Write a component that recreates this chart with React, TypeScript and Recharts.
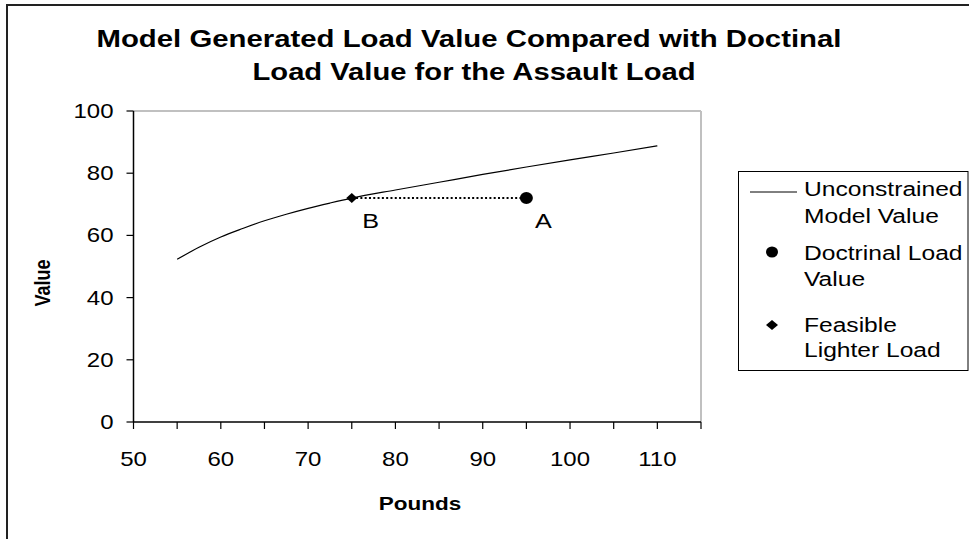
import React from "react";
import {
  ComposedChart,
  Line,
  Scatter,
  XAxis,
  YAxis,
  ReferenceLine,
} from "recharts";

const pounds = [55, 57.5, 60, 62.5, 65, 67.5, 70, 72.5, 75, 80, 85, 90, 95, 100, 105, 110];
const modelValues = [52.3, 56.2, 59.5, 62.2, 64.7, 66.8, 68.7, 70.4, 72, 74.6, 77.1, 79.6, 82, 84.3, 86.5, 88.8];

const doctrinalPounds = [95];
const doctrinalValues = [72];
const doctrinalLabels = ["A"];

const feasiblePounds = [75];
const feasibleValues = [72];
const feasibleLabels = ["B"];

const xTicks = [50, 55, 60, 65, 70, 75, 80, 85, 90, 95, 100, 105, 110, 115];
const yTicks = [0, 20, 40, 60, 80, 100];

const titleLines = [
  "Model Generated Load Value Compared with Doctinal",
  "Load Value for the Assault Load",
];
const xTitle = "Pounds";
const yTitle = "Value";
const legendNames = [
  ["Unconstrained", "Model Value"],
  ["Doctrinal Load", "Value"],
  ["Feasible", "Lighter Load"],
];

const modelData = pounds.map((x, i) => ({ x, y: modelValues[i] }));
const doctrinalData = doctrinalPounds.map((x, i) => ({ x, y: doctrinalValues[i], label: doctrinalLabels[i] }));
const feasibleData = feasiblePounds.map((x, i) => ({ x, y: feasibleValues[i], label: feasibleLabels[i] }));
const gapData = [
  { x: feasiblePounds[0], y: feasibleValues[0] },
  { x: doctrinalPounds[0], y: doctrinalValues[0] },
];

const FONT = "'Liberation Sans', Arial, sans-serif";
const SX = 1.2; // horizontal stretch of the original rendering

const StretchText = ({ x, y, anchor, size, bold, sx, children }: any) => (
  <text
    transform={`translate(${x},${y}) scale(${sx || SX},1)`}
    x={0}
    y={0}
    textAnchor={anchor}
    fontFamily={FONT}
    fontSize={size}
    fontWeight={bold ? "bold" : "normal"}
    fill="#000"
  >
    {children}
  </text>
);

const XTick = (props: any) => {
  const { x, y, payload } = props;
  const v = payload.value;
  const label = v % 10 === 0 && v <= 110 ? String(v) : "";
  if (!label) return <g />;
  return (
    <StretchText x={x} y={y + 23} anchor="middle" size={20}>
      {label}
    </StretchText>
  );
};

const YTick = (props: any) => {
  const { x, y, payload } = props;
  return (
    <StretchText x={x} y={y + 7} anchor="end" size={20}>
      {String(payload.value)}
    </StretchText>
  );
};

const CircleShape = (props: any) => {
  const { cx, cy, payload } = props;
  return (
    <g>
      <ellipse cx={cx} cy={cy} rx={6.5} ry={6} fill="#000" />
      <StretchText x={cx + 17} y={cy + 30} anchor="middle" size={21}>
        {payload.label}
      </StretchText>
    </g>
  );
};

const DiamondShape = (props: any) => {
  const { cx, cy, payload } = props;
  return (
    <g>
      <path d={`M${cx},${cy - 5}L${cx + 5.5},${cy}L${cx},${cy + 5}L${cx - 5.5},${cy}Z`} fill="#000" />
      <StretchText x={cx + 19} y={cy + 30} anchor="middle" size={21}>
        {payload.label}
      </StretchText>
    </g>
  );
};

const LegendBox = () => (
  <svg
    width={969}
    height={539}
    style={{ position: "absolute", left: 0, top: 0, pointerEvents: "none" }}
  >
    <rect x={738.5} y={171.5} width={229.5} height={199} fill="#fff" stroke="#000" strokeWidth={1} />
    <line x1={750} y1={192} x2={797} y2={192} stroke="#000" strokeWidth={1} />
    <ellipse cx={772} cy={252} rx={6} ry={5.5} fill="#000" />
    <path d="M772,320L778,325L772,330L766,325Z" fill="#000" />
    <StretchText x={804} y={196} anchor="start" size={20} sx={1.23}>{legendNames[0][0]}</StretchText>
    <StretchText x={804} y={223} anchor="start" size={20} sx={1.23}>{legendNames[0][1]}</StretchText>
    <StretchText x={804} y={260} anchor="start" size={20} sx={1.23}>{legendNames[1][0]}</StretchText>
    <StretchText x={804} y={286} anchor="start" size={20} sx={1.23}>{legendNames[1][1]}</StretchText>
    <StretchText x={804} y={332} anchor="start" size={20} sx={1.23}>{legendNames[2][0]}</StretchText>
    <StretchText x={804} y={357} anchor="start" size={20} sx={1.23}>{legendNames[2][1]}</StretchText>
  </svg>
);

export default function App() {
  return (
    <div
      style={{
        position: "absolute",
        left: 0,
        top: 0,
        width: 969,
        height: 539,
        overflow: "hidden",
        background: "#fff",
      }}
    >
      <div
        style={{
          position: "absolute",
          left: 6,
          top: 4,
          width: 1000,
          height: 600,
          borderLeft: "2px solid #222",
          borderTop: "2px solid #222",
        }}
      />
      <ComposedChart
        width={969}
        height={539}
        margin={{ top: 111, right: 268, bottom: 87, left: 73.5 }}
        style={{ position: "absolute", left: 0, top: 0 }}
      >
        <XAxis
          type="number"
          dataKey="x"
          domain={[50, 115]}
          ticks={xTicks}
          allowDataOverflow
          interval={0}
          height={30}
          tickSize={7}
          tickMargin={14}
          axisLine={{ stroke: "#000", strokeWidth: 1.5 }}
          tickLine={{ stroke: "#000", strokeWidth: 1.2 }}
          tick={<XTick />}
        />
        <YAxis
          type="number"
          domain={[0, 100]}
          ticks={yTicks}
          width={60}
          tickSize={7}
          tickMargin={13}
          axisLine={{ stroke: "#000", strokeWidth: 1.5 }}
          tickLine={{ stroke: "#000", strokeWidth: 1.2 }}
          tick={<YTick />}
        />
        <ReferenceLine y={100} stroke="#c0c0c0" strokeWidth={2} ifOverflow="extendDomain" />
        <ReferenceLine x={115} stroke="#c0c0c0" strokeWidth={2} ifOverflow="extendDomain" />
        <Line
          data={modelData}
          dataKey="y"
          type="monotone"
          stroke="#000"
          strokeWidth={1.2}
          dot={false}
          activeDot={false}
          isAnimationActive={false}
          legendType="none"
        />
        <Line
          data={gapData}
          dataKey="y"
          type="linear"
          stroke="#000"
          strokeWidth={2}
          strokeDasharray="2 2.3"
          dot={false}
          activeDot={false}
          isAnimationActive={false}
          legendType="none"
        />
        <Scatter data={doctrinalData} dataKey="y" shape={CircleShape} isAnimationActive={false} />
        <Scatter data={feasibleData} dataKey="y" shape={DiamondShape} isAnimationActive={false} />
      </ComposedChart>
      <LegendBox />
      <svg
        width={969}
        height={539}
        style={{ position: "absolute", left: 0, top: 0, pointerEvents: "none" }}
      >
        <text x={469} y={47} textAnchor="middle" fontFamily={FONT} fontWeight="bold" fontSize={23} fill="#000" textLength={745} lengthAdjust="spacingAndGlyphs">
          {titleLines[0]}
        </text>
        <text x={474} y={79.5} textAnchor="middle" fontFamily={FONT} fontWeight="bold" fontSize={23} fill="#000" textLength={443} lengthAdjust="spacingAndGlyphs">
          {titleLines[1]}
        </text>
        <text
          transform="translate(420,510) scale(1.25,1)"
          x={0}
          y={0}
          textAnchor="middle"
          fontFamily={FONT}
          fontWeight="bold"
          fontSize={18}
          fill="#000"
        >
          {xTitle}
        </text>
        <text
          transform="translate(50,283) scale(1.25,1) rotate(-90)"
          x={0}
          y={0}
          textAnchor="middle"
          fontFamily={FONT}
          fontWeight="bold"
          fontSize={18}
          fill="#000"
        >
          {yTitle}
        </text>
      </svg>
    </div>
  );
}
